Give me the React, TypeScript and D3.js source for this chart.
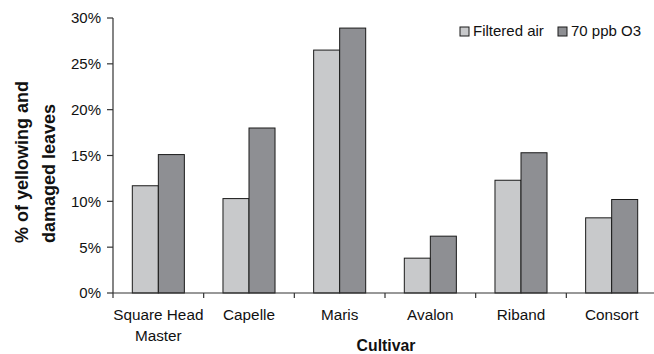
import React from "react";
import * as d3 from "d3";

const categories = ["Square Head Master", "Capelle", "Maris", "Avalon", "Riband", "Consort"];
const categoryLines = [["Square Head", "Master"], ["Capelle"], ["Maris"], ["Avalon"], ["Riband"], ["Consort"]];
const seriesNames = ["Filtered air", "70 ppb O3"];
const filteredAir = [11.7, 10.3, 26.5, 3.8, 12.3, 8.2];
const ozone = [15.1, 18.0, 28.9, 6.2, 15.3, 10.2];
const yTicks = [0, 5, 10, 15, 20, 25, 30];
const colors = ["#c8c9cb", "#8e8f93"];

const W = 654;
const H = 354;
const left = 113;
const right = 657;
const top = 18;
const bottom = 293;
const font = "'Liberation Sans', Arial, sans-serif";

export default function App() {
  const y = d3.scaleLinear().domain([0, 30]).range([bottom, top]);
  const x0 = d3
    .scaleBand<string>()
    .domain(categories)
    .range([left, right])
    .paddingInner(0.426)
    .paddingOuter(0.213);
  const x1 = d3.scaleBand<string>().domain(seriesNames).range([0, x0.bandwidth()]);
  const step = x0.step();
  const data = [filteredAir, ozone];

  return (
    <svg
      width={W}
      height={H}
      style={{ position: "absolute", left: 0, top: 0, background: "#fff" }}
      fontFamily={font}
    >
      {/* bars */}
      {categories.map((c, i) =>
        seriesNames.map((s, j) => (
          <rect
            key={c + s}
            x={(x0(c) as number) + (x1(s) as number)}
            y={y(data[j][i])}
            width={x1.bandwidth()}
            height={y(0) - y(data[j][i])}
            fill={colors[j]}
            stroke="#1a1a1a"
            strokeWidth={1}
          />
        ))
      )}
      {/* y axis */}
      <line x1={left} x2={left} y1={y(30)} y2={y(0)} stroke="#333" strokeWidth={1.2} />
      {yTicks.map((t) => (
        <g key={t}>
          <line x1={left - 6} x2={left} y1={y(t)} y2={y(t)} stroke="#333" strokeWidth={1.2} />
          <text x={101} y={y(t)} dy="0.36em" textAnchor="end" fontSize={15} fill="#111">
            {t}%
          </text>
        </g>
      ))}
      {/* x axis */}
      <line x1={left} x2={right} y1={y(0)} y2={y(0)} stroke="#333" strokeWidth={1.2} />
      {d3.range(categories.length + 1).map((i) => (
        <line
          key={i}
          x1={left + i * step}
          x2={left + i * step}
          y1={y(0)}
          y2={y(0) + 5}
          stroke="#333"
          strokeWidth={1.2}
        />
      ))}
      {categories.map((c, i) => (
        <text key={c} textAnchor="middle" fontSize={15.3} fill="#111">
          {categoryLines[i].map((ln, k) => (
            <tspan key={k} x={(x0(c) as number) + x0.bandwidth() / 2} y={319.5 + k * 21}>
              {ln}
            </tspan>
          ))}
        </text>
      ))}
      {/* axis titles */}
      <text x={386} y={351} textAnchor="middle" fontSize={15.8} fontWeight="bold" fill="#111">
        Cultivar
      </text>
      <g transform="translate(0,243) rotate(-90)">
        <text x={0} y={27.5} fontSize={18} fontWeight="bold" fill="#111">
          % of yellowing and
        </text>
        <text x={0} y={55} fontSize={18} fontWeight="bold" fill="#111">
          damaged leaves
        </text>
      </g>
      {/* legend */}
      {seriesNames.map((s, j) => {
        const lx = [460, 558][j];
        return (
          <g key={s}>
            <rect x={lx} y={27} width={9} height={9} fill={colors[j]} stroke="#1a1a1a" strokeWidth={1} />
            <text x={lx + 13} y={36} fontSize={15} fill="#111">
              {s}
            </text>
          </g>
        );
      })}
    </svg>
  );
}
